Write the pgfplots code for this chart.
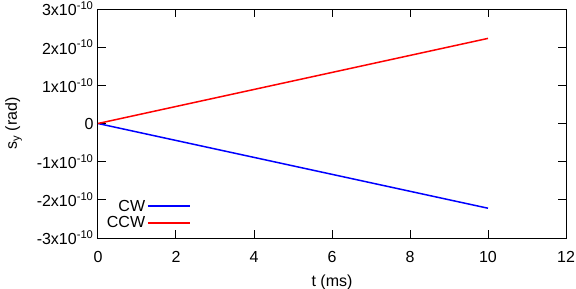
\documentclass[border=0pt]{standalone}
\usepackage{fontspec}
\setmainfont{Liberation Sans}
\usepackage{pgfplots}
\pgfplotsset{compat=1.18}
\newcommand{\ff}{\fontsize{16}{18}\selectfont}
\begin{document}
\begin{tikzpicture}[x=1pt,y=1pt]
\begin{axis}[
  scale only axis, width=468pt, height=229pt,
  xmin=0, xmax=12, ymin=-3e-10, ymax=3e-10,
  scaled y ticks=false,
  xtick={0,2,4,6,8,10,12},
  ytick={-3e-10,-2e-10,-1e-10,0,1e-10,2e-10,3e-10},
  yticklabels={-3x10\textsuperscript{-10},-2x10\textsuperscript{-10},-1x10\textsuperscript{-10},0,1x10\textsuperscript{-10},2x10\textsuperscript{-10},3x10\textsuperscript{-10}},
  /pgf/number format/assume math mode=true,
  tick align=inside, major tick length=8pt,
  tick style={black, line width=1pt},
  axis line style={line width=1pt},
  tick label style={font=\ff},
  xticklabel style={yshift=-10pt},
  yticklabel style={xshift=-1pt},
  xlabel={t (ms)}, ylabel={s\textsubscript{y} (rad)},
  label style={font=\ff},
  xlabel style={yshift=-5pt},
  ylabel style={yshift=8pt},
  legend style={at={(0.008,0.02)}, anchor=south west, draw=none, fill=none,
    font=\ff, row sep=0pt},
  legend cell align=right,
  legend plot pos=right,
  legend image code/.code={\draw[#1] (8pt,0pt) -- (50pt,0pt);},
]
\addplot[blue, line width=1.5pt] coordinates {(0,0) (10,-2.22e-10)};
\addlegendentry{CW}
\addplot[red, line width=1.5pt] coordinates {(0,0) (10,2.23e-10)};
\addlegendentry{CCW}
\end{axis}
\pgfresetboundingbox
\path[use as bounding box] (current axis.south west) ++(-98pt,-51pt) rectangle ++(576pt,289pt);
\end{tikzpicture}
\end{document}
